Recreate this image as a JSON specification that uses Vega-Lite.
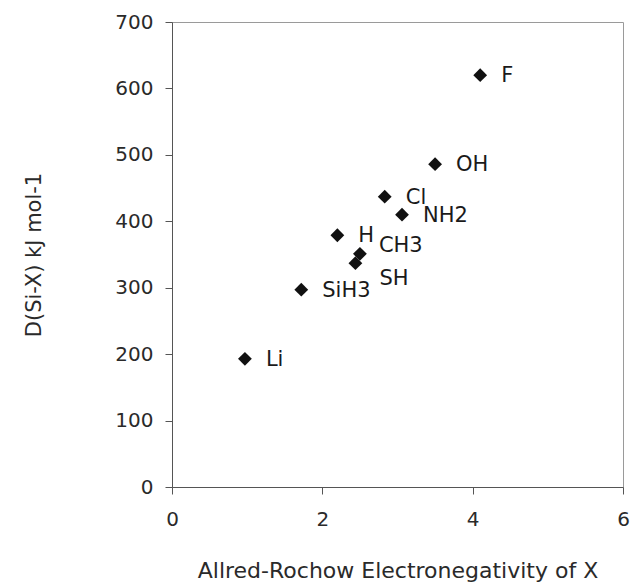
{
  "$schema": "https://vega.github.io/schema/vega-lite/v6.json",
  "width": 451,
  "height": 465,
  "autosize": "none",
  "padding": {"left": 172, "top": 22, "right": 7, "bottom": 96},
  "background": "white",
  "config": {
    "view": {"stroke": "#9a9a9a", "strokeWidth": 1},
    "font": "DejaVu Sans",
    "axis": {
      "grid": false,
      "domainColor": "#555",
      "tickColor": "#555",
      "labelColor": "#2a2a2a",
      "titleColor": "#2a2a2a",
      "labelFont": "DejaVu Sans",
      "titleFont": "DejaVu Sans",
      "labelFontSize": 20,
      "titleFontSize": 21,
      "titleFontWeight": "normal"
    }
  },
  "data": {
    "values": [
      {"group": "F", "en": 4.10, "d": 620},
      {"group": "OH", "en": 3.50, "d": 486},
      {"group": "Cl", "en": 2.83, "d": 437},
      {"group": "NH2", "en": 3.06, "d": 410},
      {"group": "H", "en": 2.20, "d": 379},
      {"group": "CH3", "en": 2.50, "d": 351},
      {"group": "SH", "en": 2.44, "d": 337},
      {"group": "SiH3", "en": 1.72, "d": 297},
      {"group": "Li", "en": 0.97, "d": 193}
    ]
  },
  "encoding": {
    "x": {
      "field": "en", "type": "quantitative",
      "scale": {"domain": [0, 6], "nice": false},
      "axis": {"values": [0, 2, 4, 6], "tickSize": 7, "labelPadding": 15, "labelFlush": false, "title": "Allred-Rochow Electronegativity of X", "titleFontSize": 22, "titlePadding": 31}
    },
    "y": {
      "field": "d", "type": "quantitative",
      "scale": {"domain": [0, 700], "nice": false},
      "axis": {"values": [0, 100, 200, 300, 400, 500, 600, 700], "tickSize": 7, "labelPadding": 12, "title": "D(Si-X) kJ mol-1", "titlePadding": 70}
    }
  },
  "layer": [
    {
      "mark": {"type": "point", "shape": "diamond", "filled": true, "color": "#111", "size": 190, "opacity": 1}
    },
    {
      "transform": [{"filter": "datum.group !== 'CH3' && datum.group !== 'SH'"}],
      "mark": {"type": "text", "align": "left", "baseline": "middle", "dx": 21, "dy": 1, "fontSize": 21, "color": "#1a1a1a", "font": "DejaVu Sans"},
      "encoding": {"text": {"field": "group"}}
    },
    {
      "transform": [{"filter": "datum.group === 'CH3'"}],
      "mark": {"type": "text", "align": "left", "baseline": "middle", "dx": 19, "dy": -8, "fontSize": 21, "color": "#1a1a1a", "font": "DejaVu Sans"},
      "encoding": {"text": {"field": "group"}}
    },
    {
      "transform": [{"filter": "datum.group === 'SH'"}],
      "mark": {"type": "text", "align": "left", "baseline": "middle", "dx": 24, "dy": 16, "fontSize": 21, "color": "#1a1a1a", "font": "DejaVu Sans"},
      "encoding": {"text": {"field": "group"}}
    }
  ]
}
